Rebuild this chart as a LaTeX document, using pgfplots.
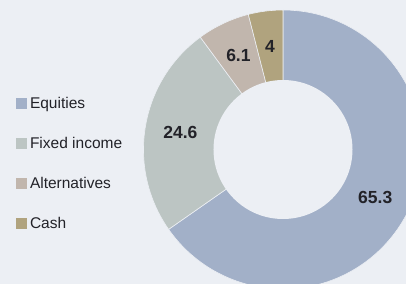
\documentclass[border=0pt]{standalone}
\usepackage{fontspec}
\setmainfont{Liberation Sans}
\usepackage{pgfplots}
\usepackage{pgfplotstable}
\pgfplotsset{compat=1.18}
\definecolor{bg}{HTML}{ECEFF4}
\definecolor{txt}{HTML}{222228}
\definecolor{cEq}{HTML}{A2B0C8}
\definecolor{cFi}{HTML}{BCC5C3}
\definecolor{cAl}{HTML}{C1B6AD}
\definecolor{cCa}{HTML}{B0A37E}
\pgfplotstableread{
name value color
Equities 65.3 cEq
{Fixed income} 24.6 cFi
Alternatives 6.1 cAl
Cash 4 cCa
}\slices
\begin{document}
\begin{tikzpicture}
\begin{axis}[
  at={(0,0)}, anchor=south west,
  x=1bp, y=1bp, xmin=0, xmax=406, ymin=0, ymax=284,
  hide axis, clip=true,
  axis background/.style={fill=bg},
  legend style={at={(axis cs:16,187.1)}, anchor=north west, draw=none, fill=none,
    inner sep=0pt, outer sep=0pt, row sep=25bp, column sep=3.3bp,
    font=\fontsize{15.5bp}{18bp}\selectfont, text=txt,
    nodes={inner sep=0pt, text height=11.5bp, text depth=3.5bp}},
  legend cell align=left,
  legend image code/.code={\fill[#1] (0bp,-4.6bp) rectangle (10.7bp,6.1bp);},
]
\addlegendimage{fill=cEq, draw=none}
\addlegendentry{Equities}
\addlegendimage{fill=cFi, draw=none}
\addlegendentry{Fixed income}
\addlegendimage{fill=cAl, draw=none}
\addlegendentry{Alternatives}
\addlegendimage{fill=cCa, draw=none}
\addlegendentry{Cash}
\def\a{90}
\pgfplotsforeachungrouped \i in {0,...,3}{%
  \pgfplotstablegetelem{\i}{value}\of\slices \let\v\pgfplotsretval
  \pgfplotstablegetelem{\i}{color}\of\slices \let\c\pgfplotsretval
  \pgfmathsetmacro\b{\a - 3.6*\v}%
  \pgfmathsetmacro\m{(\a+\b)/2}%
  \edef\temp{\noexpand\fill[\c, draw=bg, line width=0.6bp] (axis cs:283,134.5) -- ++(\a:139.5bp) arc[start angle=\a, end angle=\b, radius=139.5bp] -- cycle;
    \noexpand\node[font=\noexpand\fontsize{17.5bp}{20bp}\noexpand\selectfont\noexpand\bfseries, text=txt, inner sep=0pt] at ([shift={(\m:104bp)}]axis cs:283,134.5) {\v};}%
  \temp
  \let\a\b
}
\fill[bg] (axis cs:283,134.5) circle[radius=69.5bp];
\end{axis}
\pgfresetboundingbox
\path[use as bounding box] (0,0) rectangle (406bp,284bp);
\end{tikzpicture}
\end{document}
